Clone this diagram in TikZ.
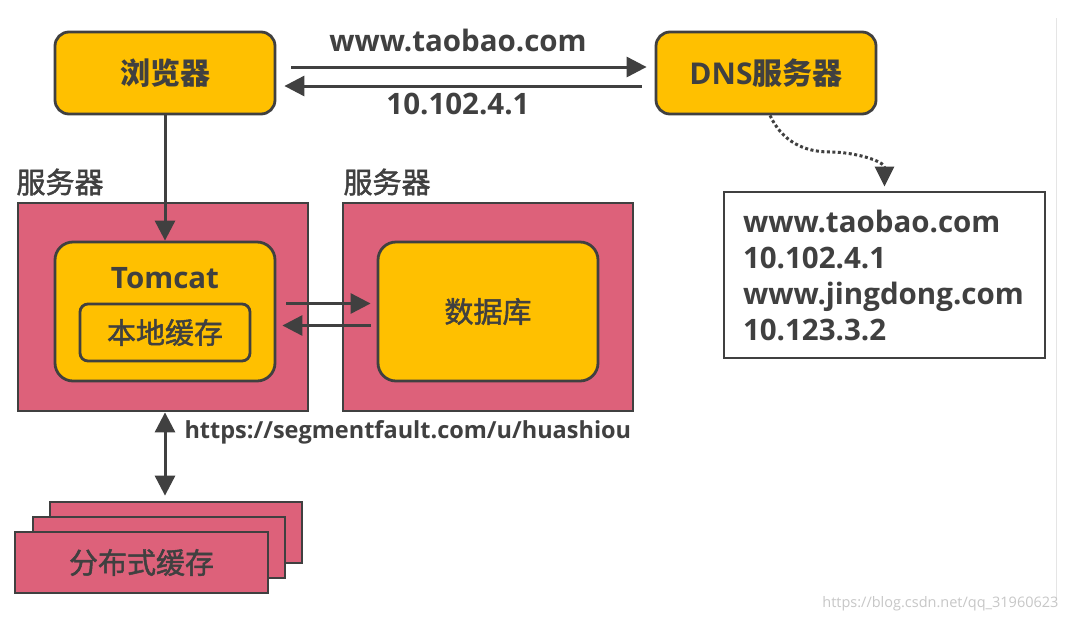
\documentclass[tikz,border=0pt]{standalone}
\usepackage{fontspec}
\setmainfont{Open Sans}
\newfontfamily\cjk{Noto Sans CJK SC}[FakeBold=1.6]
\newfontfamily\cjkb{Noto Sans CJK SC}
\usepackage{xcolor}
\usetikzlibrary{arrows.meta,positioning,calc}
\definecolor{gold}{HTML}{FFC000}
\definecolor{rose}{HTML}{DD617A}
\definecolor{ink}{HTML}{404040}
\newcommand{\bigcjk}{\cjk\fontsize{29}{34}\selectfont}
\newcommand{\boldcjk}{\cjkb\bfseries\fontsize{30}{34}\selectfont}
\newcommand{\biglat}{\bfseries\fontsize{29.5}{36}\selectfont}

\begin{document}
\begin{tikzpicture}[x = 1pt, y = -1pt,
  box/.style = {draw = ink, line width = 2.8pt, fill = gold, text = ink, rounded corners = 14pt},
  srv/.style = {draw = ink, line width = 2.8pt, fill = rose, text = ink},
  arr/.style = {draw = ink, line width = 3pt, -{Triangle[length = 20pt, width = 20pt]}},
  dblarr/.style = {draw = ink, line width = 3pt, {Triangle[length = 20pt, width = 20pt]}-{Triangle[length = 20pt, width = 20pt]}},
  dotarr/.style = {draw = ink, line width = 3pt, dash pattern = on 3pt off 2.5pt, -{Triangle[length = 20pt, width = 19pt]}}]
\useasboundingbox (0,0) rectangle (1070,622);
\fill[white] (0,0) rectangle (1070,622);
% page edge and watermark of the screenshot
\coordinate (edgetop) at (1056,18);
\coordinate (edgebot) at (1056,598);
\draw[black!10, line width = 1pt] (edgetop) -- (edgebot);
\node[anchor = east, text = black!22, font = \fontsize{14.5}{17}\selectfont] (mark) at (1062,604) {https://blog.csdn.net/qq\_31960623};

% top row
\node[box, minimum width = 220pt, minimum height = 82pt, font = \boldcjk] (browser) at (165,73) {浏览器};
\node[box, minimum width = 220pt, minimum height = 82pt, font = \bfseries\fontsize{30}{34}\selectfont] (dns) at (766,73) {DNS{\cjkb 服务器}};
\draw[arr] ([xshift = 15pt, yshift = 6pt]browser.east) -- ([xshift = -8pt, yshift = 6pt]dns.west);
\draw[arr] ([xshift = -13pt, yshift = -13pt]dns.west) -- ([xshift = 8pt, yshift = -13pt]browser.east);
\node[text = ink, font = \biglat] (ask) at (458,40) {www.taobao.com};
\node[text = ink, font = \biglat] (ans) at (458,104) {10.102.4.1};

% dns records
\node[draw = ink, line width = 2.8pt, fill = white, text = ink, text width = 283pt, inner xsep = 19pt, minimum height = 166pt, align = left, font = \biglat] (record) at (884.5,275) {www.taobao.com\\10.102.4.1\\www.jingdong.com\\10.123.3.2};
\coordinate (bend) at (830,152);
\draw[dotarr] ([xshift = 4pt]dns.south) to[out = -65, in = 180] (bend) to[out = 0, in = 90] ([yshift = 4pt]record.north);

% servers
\node[text = ink, anchor = west, font = \bigcjk] (srvAlabel) at (13,182) {服务器};
\node[text = ink, anchor = west, font = \bigcjk] (srvBlabel) at (340,182) {服务器};
\node[srv, minimum width = 290pt, minimum height = 208pt] (srvA) at (163,307) {};
\node[srv, minimum width = 290pt, minimum height = 208pt] (srvB) at (488,307) {};
\node[box, rounded corners = 18pt, minimum width = 220pt, minimum height = 139pt] (tomcat) at (165,311.5) {};
\node[text = ink, font = \biglat] (tomcatlabel) at (165,278) {Tomcat};
\node[box, rounded corners = 8pt, minimum width = 170pt, minimum height = 57pt, font = \bigcjk] (cache) at (165,332.5) {本地缓存};
\node[box, rounded corners = 18pt, minimum width = 220pt, minimum height = 139pt, font = \bigcjk] (db) at (488,311.5) {数据库};
\draw[arr] ([xshift = 10pt, yshift = 8pt]tomcat.east) -- ([xshift = -6pt, yshift = 8pt]db.west);
\draw[arr] ([xshift = -6pt, yshift = -14pt]db.west) -- ([xshift = 6pt, yshift = -14pt]tomcat.east);
\draw[arr] (browser) -- (tomcat);

% distributed cache
\node[srv, minimum width = 252pt, minimum height = 61pt] (dcA) at (176,532.5) {};
\node[srv, minimum width = 252pt, minimum height = 61pt] (dcB) at (159,547.5) {};
\node[srv, minimum width = 253pt, minimum height = 61pt, font = \bigcjk] (dcC) at (141.5,562.5) {分布式缓存};
\draw[dblarr] (srvA.south -| tomcat.south) -- ([yshift = 5pt]dcA.north -| tomcat.south);
\node[anchor = west, text = ink, font = \bfseries\fontsize{23.5}{27}\selectfont] (url) at (181,432) {https://segmentfault.com/u/huashiou};
\end{tikzpicture}
\end{document}
